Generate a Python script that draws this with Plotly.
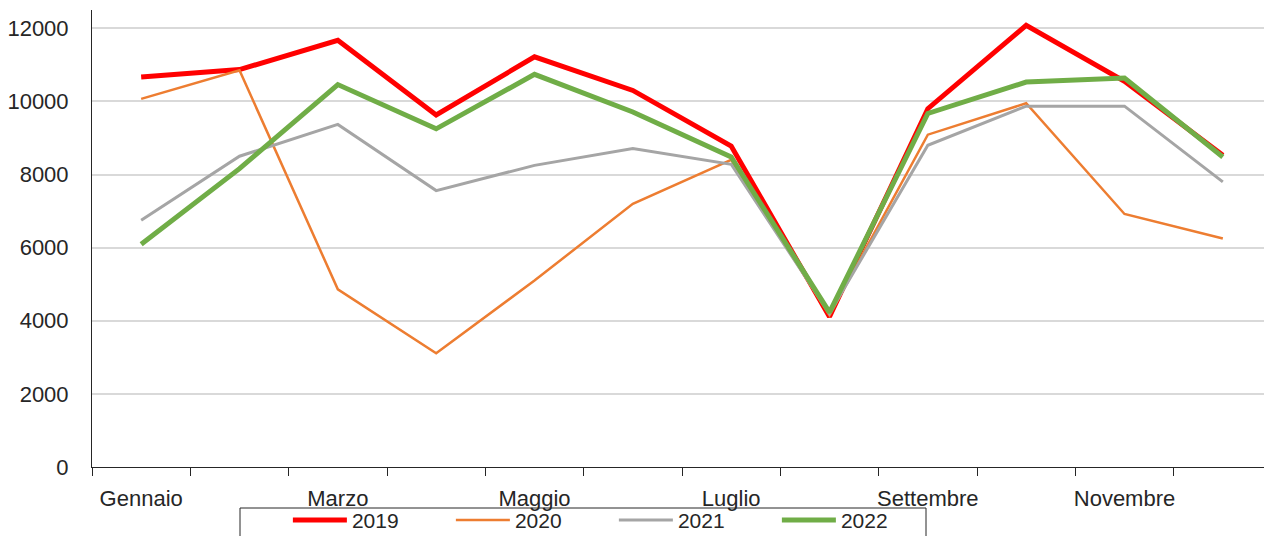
import plotly.graph_objects as go

mesi = ["Gennaio", "Febbraio", "Marzo", "Aprile", "Maggio", "Giugno",
        "Luglio", "Agosto", "Settembre", "Ottobre", "Novembre", "Dicembre"]

v2019 = [10670, 10870, 11670, 9630, 11220, 10300, 8780, 4110, 9800, 12080, 10550, 8530]
v2020 = [10070, 10850, 4860, 3110, 5100, 7200, 8400, 4150, 9090, 9950, 6920, 6250]
v2021 = [6750, 8500, 9370, 7560, 8250, 8710, 8280, 4200, 8800, 9870, 9870, 7800]
v2022 = [6090, 8160, 10460, 9250, 10740, 9710, 8480, 4230, 9670, 10530, 10640, 8480]

serie = [
    ("2019", v2019, "#FF0000", 5),
    ("2020", v2020, "#ED7D31", 2.5),
    ("2021", v2021, "#A5A5A5", 3),
    ("2022", v2022, "#70AD47", 5),
]

x = list(range(len(mesi)))

fig = go.Figure()
for name, vals, col, w in serie:
    fig.add_trace(go.Scatter(x=x, y=vals, mode="lines", name=name,
                             line=dict(color=col, width=w)))

font = dict(family="Liberation Sans, Arial, sans-serif", size=22, color="#262626")

# the page body keeps an 8px margin; the legend box runs off the bottom edge
fig.update_layout(
    width=1264, height=536,
    margin=dict(l=84, r=0, t=2, b=77),
    paper_bgcolor="white", plot_bgcolor="white",
    font=font,
    showlegend=True,
    legend=dict(orientation="h", x=0.166, xanchor="left", y=-0.072, yanchor="top",
                bgcolor="rgba(0,0,0,0)", borderwidth=0,
                itemwidth=54, entrywidth=94, entrywidthmode="pixels",
                font=dict(family="Liberation Sans, Arial, sans-serif", size=21, color="#262626"),
                traceorder="normal"),
    shapes=[dict(type="rect", xref="paper", yref="paper",
                 x0=(240 - 92) / 1180, x1=(926 - 92) / 1180,
                 y0=-0.4, y1=(467 - 508) / 457,
                 line=dict(color="#262626", width=1))],
)

fig.update_xaxes(
    range=[-0.5, 11.5],
    tickvals=x[::2], ticktext=mesi[::2],
    ticks="outside", ticklen=0,
    ticklabelstandoff=12,
    minor=dict(tick0=-0.5, dtick=1, ticks="outside", ticklen=8, tickcolor="#262626"),
    showline=True, linecolor="#262626", linewidth=1,
    showgrid=False, zeroline=False, automargin=False,
)
fig.update_yaxes(
    range=[0, 12500],
    tickvals=[0, 2000, 4000, 6000, 8000, 10000, 12000],
    tickformat="d",
    ticks="", ticklabelstandoff=18,
    showline=True, linecolor="#262626", linewidth=1,
    showgrid=True, gridcolor="#D9D9D9", gridwidth=1.5,
    zeroline=False, automargin=False,
)

fig.write_html("out.html")
